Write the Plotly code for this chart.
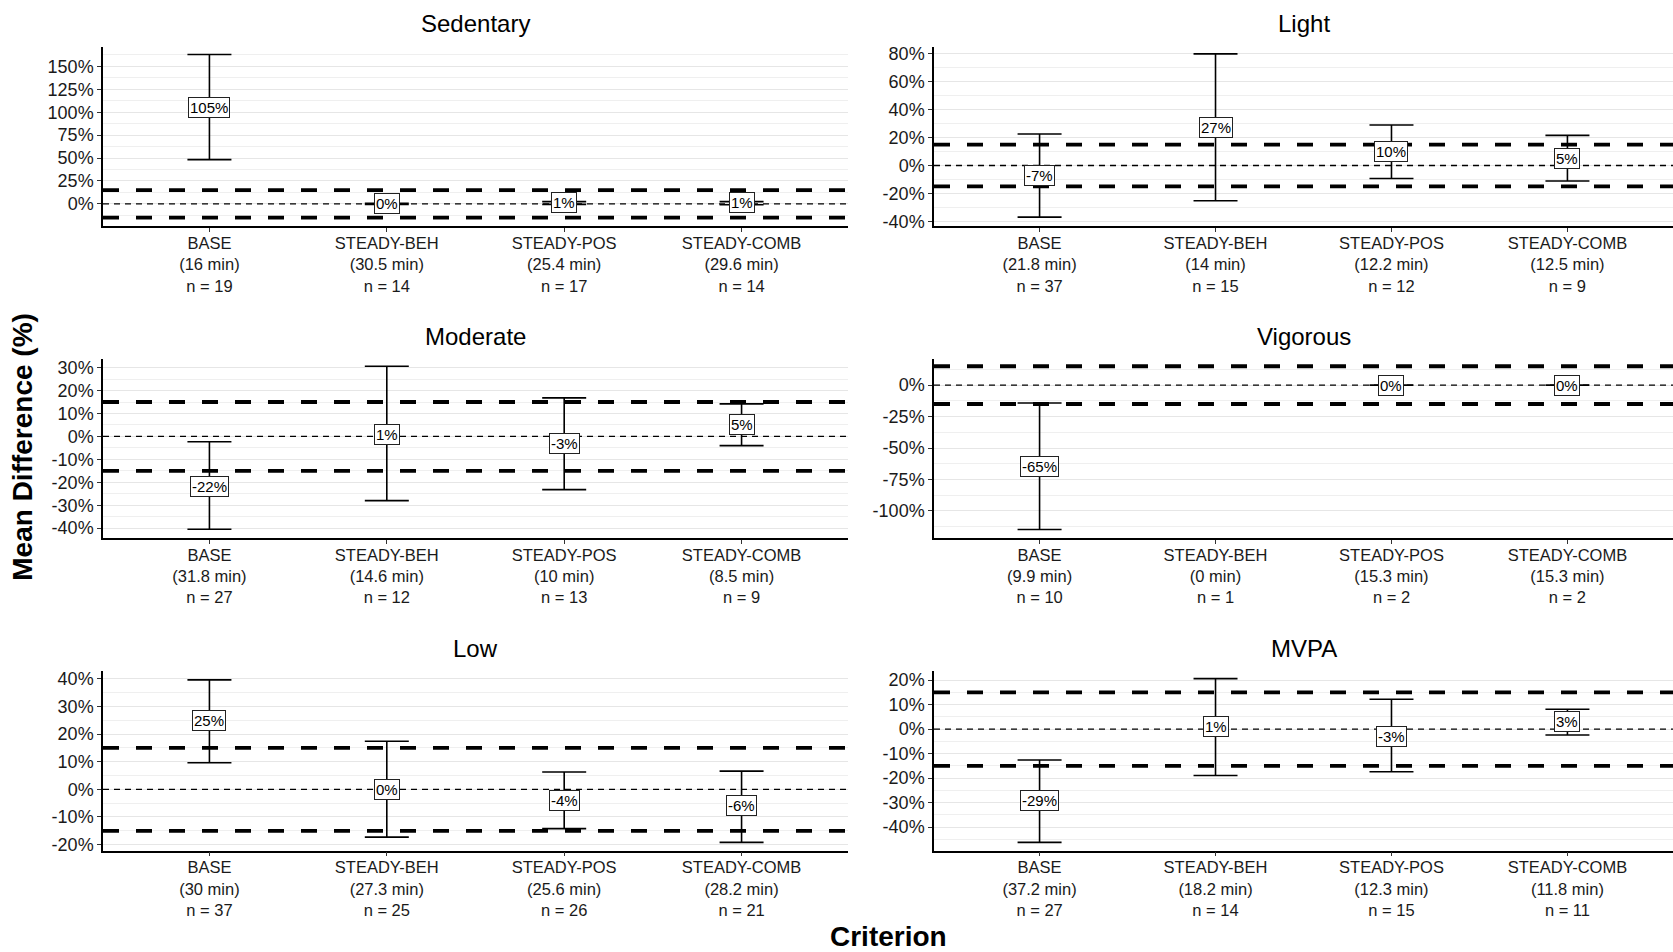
import plotly.graph_objects as go

W, H = 1673, 952

categories = ["BASE", "STEADY-BEH", "STEADY-POS", "STEADY-COMB"]
panels = ["Sedentary", "Light", "Moderate", "Vigorous", "Low", "MVPA"]

criterion_minutes = {
    "Sedentary": [16, 30.5, 25.4, 29.6],
    "Light": [21.8, 14, 12.2, 12.5],
    "Moderate": [31.8, 14.6, 10, 8.5],
    "Vigorous": [9.9, 0, 15.3, 15.3],
    "Low": [30, 27.3, 25.6, 28.2],
    "MVPA": [37.2, 18.2, 12.3, 11.8],
}
n_obs = {
    "Sedentary": [19, 14, 17, 14],
    "Light": [37, 15, 12, 9],
    "Moderate": [27, 12, 13, 9],
    "Vigorous": [10, 1, 2, 2],
    "Low": [37, 25, 26, 21],
    "MVPA": [27, 14, 15, 11],
}
mean_diff = {
    "Sedentary": [105, 0, 1, 1],
    "Light": [-7, 27, 10, 5],
    "Moderate": [-22, 1, -3, 5],
    "Vigorous": [-65, None, 0, 0],
    "Low": [25, 0, -4, -6],
    "MVPA": [-29, 1, -3, 3],
}
ci_lower = {
    "Sedentary": [48.3, -0.5, -0.5, -1],
    "Light": [-37, -25.3, -9.3, -11.1],
    "Moderate": [-40.5, -28, -23.2, -4],
    "Vigorous": [-114.7, None, 0, 0],
    "Low": [9.6, -17.3, -14.2, -19.2],
    "MVPA": [-46.2, -18.9, -17.4, -2.4],
}
ci_upper = {
    "Sedentary": [163, 0.5, 2.5, 2.5],
    "Light": [22.6, 80, 29, 21.6],
    "Moderate": [-2.3, 30.6, 16.8, 14.2],
    "Vigorous": [-14.2, None, 0, 0],
    "Low": [39.6, 17.4, 6.3, 6.6],
    "MVPA": [-12.6, 20.6, 12.2, 8.1],
}
y_ticks = {
    "Sedentary": [0, 25, 50, 75, 100, 125, 150],
    "Light": [-40, -20, 0, 20, 40, 60, 80],
    "Moderate": [-40, -30, -20, -10, 0, 10, 20, 30],
    "Vigorous": [-100, -75, -50, -25, 0],
    "Low": [-20, -10, 0, 10, 20, 30, 40],
    "MVPA": [-40, -30, -20, -10, 0, 10, 20],
}
y_ranges = {
    "Sedentary": [-24.5, 171.5],
    "Light": [-43.6, 85.2],
    "Moderate": [-44.3, 33.6],
    "Vigorous": [-121.5, 20.5],
    "Low": [-22.2, 42.8],
    "MVPA": [-49.6, 23.7],
}
equivalence_bounds = [-15, 15]
reference_line = 0

# layout geometry (pixels)
col_x = [(103, 848), (934, 1673)]
row_y = [(45, 226), (360, 540), (674, 855)]

FONT = "Liberation Sans, Arial, sans-serif"
fig = go.Figure()
layout = dict(
    width=W, height=H, margin=dict(l=0, r=0, t=0, b=0),
    paper_bgcolor="white", plot_bgcolor="white",
    font=dict(family=FONT, color="black"),
    showlegend=False,
)
shapes = []
annotations = []

for i, p in enumerate(panels):
    r, c = divmod(i, 2)
    k = "" if i == 0 else str(i + 1)
    xa, ya = "x" + k, "y" + k
    x0, x1 = col_x[c]
    y0, y1 = row_y[r]
    xs = [j + 1 for j in range(len(categories))]
    means = mean_diff[p]
    lo = ci_lower[p]
    hi = ci_upper[p]
    plus = [None if m is None else h - m for m, h in zip(means, hi)]
    minus = [None if m is None else m - l for m, l in zip(means, lo)]
    fig.add_trace(go.Scatter(
        x=xs, y=means, mode="markers", xaxis=xa, yaxis=ya,
        marker=dict(size=1, color="rgba(0,0,0,0)"),
        error_y=dict(type="data", symmetric=False, array=plus, arrayminus=minus,
                     color="black", thickness=1.6, width=22),
        hoverinfo="skip",
    ))
    ticktext = [f"{cat}<br>({m:g} min)<br>n = {n}" for cat, m, n in zip(categories, criterion_minutes[p], n_obs[p])]
    tv = y_ticks[p]
    step = tv[1] - tv[0]
    layout["xaxis" + k] = dict(
        domain=[x0 / W, x1 / W], anchor=ya, range=[0.4, 4.6],
        tickvals=xs, ticktext=ticktext, ticks="outside", ticklen=4,
        ticklabelstandoff=-3,
        tickcolor="#333", showline=True, linecolor="black", linewidth=1.5,
        showgrid=False, zeroline=False, tickfont=dict(size=16.5, color="#1a1a1a"),
        fixedrange=True,
    )
    layout["yaxis" + k] = dict(
        domain=[1 - y1 / H, 1 - y0 / H], anchor=xa, range=y_ranges[p],
        tickvals=tv, ticktext=[f"{v}%" for v in tv], ticks="outside", ticklen=4,
        tickcolor="#333", showline=True, linecolor="black", linewidth=1.5,
        showgrid=True, gridcolor="#e6e6e6", gridwidth=1.3, zeroline=False,
        minor=dict(dtick=step / 2, tick0=tv[0] + step / 2, showgrid=True,
                   gridcolor="#efefef", gridwidth=0.8, ticks=""),
        tickfont=dict(size=18, color="#1a1a1a"), fixedrange=True,
    )
    for b in equivalence_bounds:
        shapes.append(dict(type="line", xref=xa + " domain", yref=ya, x0=0, x1=1, y0=b, y1=b,
                           line=dict(color="black", width=3.8, dash="16px,17px"), layer="above"))
    shapes.append(dict(type="line", xref=xa + " domain", yref=ya, x0=0, x1=1,
                       y0=reference_line, y1=reference_line,
                       line=dict(color="black", width=1.3, dash="6px,5px"), layer="above"))
    for xv, m in zip(xs, means):
        if m is None:
            continue
        annotations.append(dict(
            x=xv, y=m, xref=xa, yref=ya, text=f"{m:g}%", showarrow=False,
            font=dict(size=15, color="black"), bgcolor="white",
            bordercolor="#222", borderwidth=1, borderpad=1,
        ))
    ty = 22 if r == 0 else y0 - 23
    annotations.append(dict(
        x=(x0 + x1) / 2 / W, y=1 - ty / H, xref="paper", yref="paper",
        text=p, showarrow=False, font=dict(size=24, color="black"),
        xanchor="center", yanchor="middle",
    ))

annotations.append(dict(
    x=23 / W, y=1 - 448 / H, xref="paper", yref="paper", text="<b>Mean Difference (%)</b>",
    textangle=-90, showarrow=False, font=dict(size=28, color="black"),
    xanchor="center", yanchor="middle",
))
annotations.append(dict(
    x=888 / W, y=1 - 941 / H, xref="paper", yref="paper", text="<b>Criterion</b>",
    showarrow=False, font=dict(size=28, color="black"),
    xanchor="center", yanchor="middle",
))

layout["shapes"] = shapes
layout["annotations"] = annotations
fig.update_layout(**layout)
fig.write_html("out.html")
